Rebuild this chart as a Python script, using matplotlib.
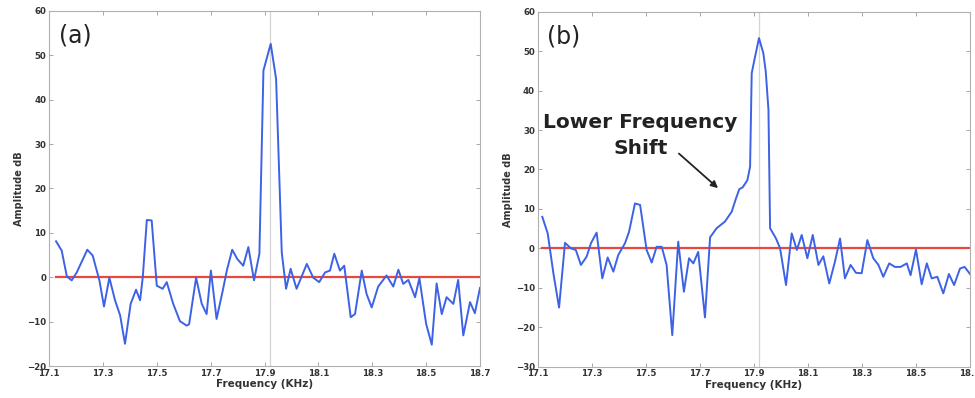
import matplotlib
matplotlib.use("Agg")
import matplotlib.pyplot as plt

# panel (a): frequency (kHz) and amplitude (dB)
freq_a = [17.126, 17.147, 17.166, 17.184, 17.203, 17.242, 17.262, 17.287, 17.304,
          17.324, 17.345, 17.364, 17.382, 17.403, 17.423, 17.438, 17.448, 17.463,
          17.481, 17.500, 17.522, 17.537, 17.561, 17.586, 17.611, 17.620, 17.646,
          17.667, 17.685, 17.701, 17.722, 17.745, 17.760, 17.780, 17.799, 17.821,
          17.840, 17.861, 17.881, 17.896, 17.923, 17.943, 17.964, 17.980, 17.997,
          18.019, 18.057, 18.081, 18.103, 18.125, 18.143, 18.159, 18.180, 18.196,
          18.220, 18.236, 18.261, 18.279, 18.298, 18.322, 18.353, 18.378, 18.397,
          18.415, 18.434, 18.459, 18.475, 18.500, 18.521, 18.539, 18.558, 18.576,
          18.601, 18.619, 18.638, 18.663, 18.681, 18.700]
amp_a = [8.1, 6.0, 0.2, -0.7, 1.1, 6.2, 4.9, -0.7, -6.6,
         -0.1, -5.2, -8.6, -15.0, -6.0, -2.8, -5.2, 0.0, 12.9,
         12.8, -1.9, -2.6, -1.1, -6.0, -9.9, -10.9, -10.6, -0.1,
         -6.0, -8.3, 1.5, -9.4, -3.0, 1.5, 6.2, 4.1, 2.6,
         6.8, -0.7, 5.3, 46.6, 52.6, 44.7, 5.6, -2.6, 1.9,
         -2.6, 3.0, -0.1, -1.1, 1.1, 1.5, 5.3, 1.5, 2.6,
         -9.0, -8.3, 1.5, -3.8, -6.8, -2.1, 0.4, -2.1, 1.7,
         -1.5, -0.6, -4.5, -0.2, -10.5, -15.2, -1.4, -8.3, -4.5,
         -6.0, -0.6, -13.1, -5.6, -8.1, -2.4]

# panel (b)
freq_b = [17.117, 17.137, 17.158, 17.179, 17.201, 17.223, 17.241, 17.260, 17.281,
          17.297, 17.318, 17.339, 17.359, 17.380, 17.398, 17.423, 17.438, 17.460,
          17.479, 17.503, 17.522, 17.540, 17.559, 17.577, 17.598, 17.620, 17.641,
          17.660, 17.676, 17.694, 17.719, 17.738, 17.762, 17.793, 17.818, 17.834,
          17.846, 17.859, 17.876, 17.886, 17.892, 17.902, 17.919, 17.935, 17.944,
          17.954, 17.960, 17.982, 17.997, 18.019, 18.040, 18.059, 18.077, 18.098,
          18.118, 18.139, 18.157, 18.179, 18.200, 18.219, 18.237, 18.258, 18.278,
          18.299, 18.320, 18.342, 18.361, 18.379, 18.401, 18.422, 18.443, 18.466,
          18.480, 18.500, 18.521, 18.540, 18.558, 18.579, 18.601, 18.622, 18.641,
          18.663, 18.680, 18.700]
amp_b = [8.0, 3.8, -6.3, -15.0, 1.4, 0.0, -0.4, -4.2, -2.1,
         1.3, 4.0, -7.6, -2.3, -5.9, -1.7, 1.3, 4.2, 11.4,
         11.0, -0.4, -3.6, 0.4, 0.4, -4.2, -22.0, 1.7, -11.0,
         -2.5, -3.8, -0.9, -17.5, 2.8, 5.1, 6.8, 9.3, 12.7,
         15.0, 15.5, 17.3, 20.7, 44.4, 47.8, 53.3, 49.5, 44.8,
         35.1, 5.1, 2.5, 0.0, -9.3, 3.8, -0.4, 3.4, -2.5,
         3.4, -4.2, -2.0, -8.9, -3.4, 2.5, -7.6, -4.2, -6.2,
         -6.3, 2.1, -2.5, -4.2, -7.2, -3.8, -4.7, -4.7, -3.8,
         -6.8, -0.3, -9.1, -3.8, -7.6, -7.2, -11.4, -6.5, -9.3,
         -5.1, -4.7, -6.5]

x_ticks = [17.1, 17.3, 17.5, 17.7, 17.9, 18.1, 18.3, 18.5, 18.7]
x_labels = ["17.1", "17.3", "17.5", "17.7", "17.9", "18.1", "18.3", "18.5", "18.7"]
peak_f = 17.92

BLUE = "#3d62e6"
RED = "#e8483f"
GREY = "#999999"

fig = plt.figure(figsize=(9.75, 3.98), dpi=100)
ax_a = fig.add_axes([0.0503, 0.0804, 0.442, 0.892])
ax_b = fig.add_axes([0.5515, 0.0786, 0.4434, 0.892])


def style(ax, ylim, yticks, tag):
    ax.axvline(peak_f, color="#d5d5d5", lw=0.9, zorder=0)
    ax.set_xlim(x_ticks[0], x_ticks[-1])
    ax.set_ylim(*ylim)
    ax.set_xticks(x_ticks)
    ax.set_xticklabels(x_labels)
    ax.set_yticks(yticks)
    ax.tick_params(direction="in", top=True, right=True, length=3,
                   width=0.6, color=GREY, labelsize=6.2, labelcolor="#333333",
                   pad=2)
    for lab in ax.get_xticklabels() + ax.get_yticklabels():
        lab.set_fontweight("bold")
    for sp in ax.spines.values():
        sp.set_color("#b0b0b0")
        sp.set_linewidth(0.8)
    ax.set_xlabel("Frequency (KHz)", fontsize=7.5, fontweight="bold",
                  color="#333333", labelpad=1)
    ax.set_ylabel("Amplitude dB", fontsize=7, fontweight="bold",
                  color="#333333", labelpad=2)
    ax.text(0.022, 0.93, tag, transform=ax.transAxes, fontsize=17,
            ha="left", va="center", color="#222222")


style(ax_a, (-20, 60), list(range(-20, 61, 10)), "(a)")
ax_a.plot([freq_a[0], x_ticks[-1]], [0, 0], color=RED, lw=1.6)
ax_a.plot(freq_a, amp_a, color=BLUE, lw=1.4)

style(ax_b, (-30, 60), list(range(-30, 61, 10)), "(b)")
ax_b.plot([freq_b[0], x_ticks[-1]], [0, 0], color=RED, lw=1.6)
ax_b.plot(freq_b, amp_b, color=BLUE, lw=1.4)

ax_b.text(17.48, 32, "Lower Frequency", ha="center", va="center",
          fontsize=14.5, fontweight="bold", color="#222222")
ax_b.text(17.48, 25.2, "Shift", ha="center", va="center",
          fontsize=14.5, fontweight="bold", color="#222222")
ax_b.annotate("", xy=(17.775, 14.8), xytext=(17.615, 24.5),
              arrowprops=dict(arrowstyle="-|>", color="#222222", lw=1.3,
                              mutation_scale=10))

fig.savefig("out.png", dpi=100)
